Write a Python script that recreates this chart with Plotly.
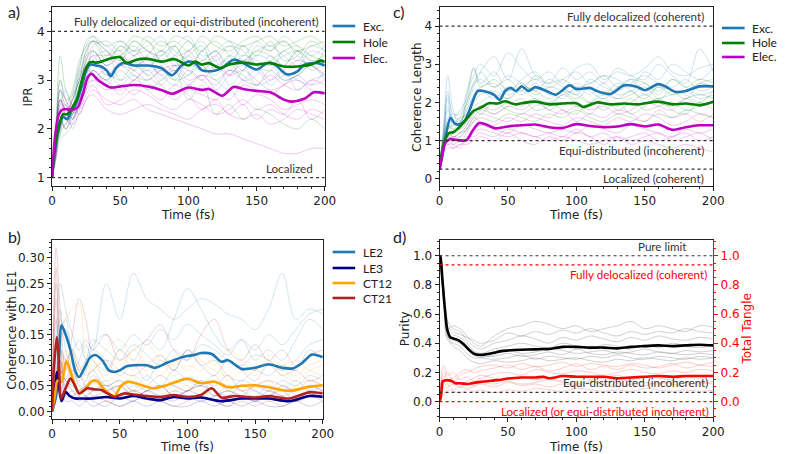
import plotly.graph_objects as go

# ---------------- time grid for thin (individual) trajectories ----------------
T_THIN = [0, 3, 6, 10, 15, 20, 25, 30, 40, 50, 60, 70, 80, 90, 100, 110, 120, 130, 140, 150, 160, 170, 180, 190, 200]

# ---------------- panel a) IPR ----------------
ipr_exc_t = [0, 2, 5, 8, 11, 14, 18, 22, 25, 28, 32, 36, 40, 43, 47, 52, 60, 70, 80, 88, 95, 100, 105, 110, 120, 125, 133, 140, 150, 158, 163, 172, 180, 185, 195, 200]
ipr_exc = [1.0, 1.55, 2.0, 2.25, 2.2, 2.35, 2.55, 2.9, 3.2, 3.32, 3.3, 3.28, 3.2, 3.08, 3.25, 3.35, 3.3, 3.3, 3.25, 3.1, 3.3, 3.38, 3.35, 3.2, 3.2, 3.25, 3.42, 3.35, 3.22, 3.35, 3.33, 3.12, 3.18, 3.32, 3.35, 3.3]
ipr_hole_t = [0, 2, 5, 8, 11, 14, 18, 22, 25, 28, 32, 36, 40, 45, 50, 55, 62, 70, 80, 90, 100, 105, 110, 115, 123, 130, 140, 150, 160, 170, 180, 190, 197, 200]
ipr_hole = [1.0, 1.6, 2.05, 2.3, 2.3, 2.4, 2.6, 3.0, 3.25, 3.37, 3.36, 3.38, 3.42, 3.46, 3.47, 3.35, 3.42, 3.44, 3.38, 3.43, 3.3, 3.38, 3.32, 3.35, 3.25, 3.32, 3.36, 3.32, 3.35, 3.28, 3.28, 3.32, 3.4, 3.37]
ipr_elec_t = [0, 2, 5, 8, 12, 16, 19, 23, 26, 29, 33, 38, 43, 50, 60, 70, 80, 88, 95, 100, 110, 115, 125, 133, 140, 150, 160, 170, 175, 185, 192, 200]
ipr_elec = [1.0, 1.8, 2.3, 2.4, 2.4, 2.4, 2.45, 2.75, 3.05, 3.13, 3.02, 2.92, 2.85, 2.87, 2.9, 2.87, 2.8, 2.72, 2.8, 2.85, 2.8, 2.82, 2.68, 2.86, 2.82, 2.78, 2.75, 2.6, 2.56, 2.62, 2.75, 2.73]

ipr_exc_thin = [
    [1, 1.8, 2.6, 2.4, 2.6, 3.0, 3.6, 3.8, 3.7, 3.5, 3.8, 3.6, 3.4, 3.7, 3.9, 3.5, 3.6, 3.8, 3.4, 3.6, 3.7, 3.5, 3.3, 3.6, 3.5],
    [1, 1.5, 2.2, 2.0, 2.3, 2.6, 3.2, 3.1, 2.9, 3.2, 3.0, 3.3, 3.1, 2.9, 3.2, 3.0, 2.8, 3.1, 3.3, 2.9, 3.0, 3.2, 2.8, 3.0, 3.1],
    [1, 2.0, 3.0, 2.6, 2.2, 2.8, 3.4, 3.6, 3.3, 3.7, 3.5, 3.2, 3.6, 3.4, 3.1, 3.6, 3.3, 3.5, 3.7, 3.3, 3.2, 3.6, 3.4, 3.7, 3.6],
    [1, 1.6, 2.4, 2.2, 2.4, 3.2, 3.0, 3.4, 3.6, 3.0, 3.2, 3.5, 3.0, 3.3, 3.5, 3.2, 3.4, 2.9, 3.2, 3.5, 3.4, 3.0, 3.1, 3.3, 3.0],
    [1, 1.7, 1.9, 2.5, 2.0, 2.4, 2.9, 3.2, 3.0, 3.3, 3.4, 3.1, 3.3, 3.0, 3.4, 3.3, 3.1, 3.4, 3.0, 3.1, 3.5, 3.3, 3.6, 3.2, 3.4],
    [1, 1.9, 2.8, 2.3, 2.7, 3.3, 3.7, 3.9, 3.5, 3.8, 3.6, 3.7, 3.9, 3.5, 3.6, 3.8, 3.4, 3.7, 3.5, 3.8, 3.6, 3.9, 3.7, 3.5, 3.7],
    [1, 1.4, 1.8, 1.9, 2.1, 2.5, 2.8, 3.0, 3.2, 2.9, 3.1, 2.8, 3.0, 3.2, 2.9, 3.1, 3.0, 2.8, 3.0, 3.2, 2.9, 3.1, 3.0, 2.9, 3.2],
    [1, 1.7, 2.5, 2.8, 2.5, 2.9, 3.3, 3.5, 3.1, 3.4, 3.6, 3.3, 3.5, 3.7, 3.3, 3.4, 3.6, 3.2, 3.5, 3.4, 3.3, 3.5, 3.6, 3.4, 3.3],
]
ipr_hole_thin = [
    [1, 2.2, 3.5, 2.8, 2.5, 3.2, 3.8, 3.9, 3.7, 3.8, 3.6, 3.9, 3.7, 3.8, 3.6, 3.9, 3.7, 3.6, 3.8, 3.9, 3.7, 3.8, 3.6, 3.7, 3.8],
    [1, 1.8, 2.4, 2.2, 2.6, 3.0, 3.5, 3.6, 3.3, 3.5, 3.7, 3.4, 3.6, 3.3, 3.5, 3.7, 3.2, 3.5, 3.4, 3.6, 3.5, 3.3, 3.6, 3.4, 3.5],
    [1, 1.6, 2.0, 2.3, 2.2, 2.5, 3.1, 3.4, 3.2, 3.0, 3.3, 3.1, 2.9, 3.2, 2.6, 2.9, 2.3, 2.5, 2.2, 2.4, 2.3, 2.1, 2.0, 2.2, 2.0],
    [1, 2.0, 2.8, 2.5, 2.8, 3.4, 3.7, 3.8, 3.6, 3.4, 3.8, 3.6, 3.5, 3.7, 3.3, 3.6, 3.8, 3.5, 3.2, 3.7, 3.6, 3.8, 3.5, 3.3, 3.6],
    [1, 1.9, 2.6, 2.4, 2.3, 2.9, 3.3, 3.5, 3.5, 3.6, 3.2, 3.5, 3.8, 3.6, 3.4, 3.2, 3.5, 3.7, 3.6, 3.3, 3.4, 3.6, 3.7, 3.5, 3.4],
    [1, 1.7, 2.2, 2.0, 2.4, 2.8, 3.4, 3.7, 3.8, 3.6, 3.9, 3.8, 3.6, 3.9, 3.8, 3.6, 3.9, 3.8, 3.7, 3.8, 3.9, 3.7, 3.8, 3.9, 3.7],
    [1, 2.1, 3.0, 2.6, 2.7, 3.1, 3.6, 3.8, 3.4, 3.7, 3.5, 3.8, 3.4, 3.5, 3.8, 3.4, 3.6, 3.3, 3.7, 3.5, 3.8, 3.4, 3.5, 3.8, 3.6],
    [1, 1.5, 1.9, 2.1, 2.3, 2.7, 3.0, 3.2, 3.0, 3.3, 3.1, 3.0, 3.2, 3.0, 3.1, 3.3, 3.0, 3.2, 3.1, 2.9, 3.2, 3.0, 3.1, 3.3, 3.1],
]
ipr_elec_thin = [
    [1, 1.5, 2.3, 2.2, 2.1, 2.3, 2.6, 2.8, 2.6, 2.5, 2.6, 2.4, 2.3, 2.2, 2.1, 2.0, 1.9, 1.9, 1.8, 1.7, 1.6, 1.5, 1.5, 1.6, 1.6],
    [1, 1.7, 2.5, 2.4, 2.5, 2.7, 3.2, 3.4, 3.1, 3.3, 3.2, 3.0, 3.2, 3.3, 3.0, 3.1, 2.9, 3.2, 3.0, 2.9, 3.1, 2.9, 2.8, 3.0, 2.9],
    [1, 1.9, 2.8, 2.6, 2.4, 2.8, 3.5, 3.8, 3.6, 3.3, 3.5, 3.6, 3.4, 3.2, 3.6, 3.3, 3.5, 3.1, 3.4, 3.3, 3.0, 3.2, 3.4, 3.3, 3.1],
    [1, 1.4, 2.0, 2.1, 2.3, 2.4, 2.7, 2.9, 2.5, 2.6, 2.8, 2.7, 2.5, 2.4, 2.6, 2.5, 2.3, 2.4, 2.6, 2.4, 2.5, 2.3, 2.2, 2.4, 2.3],
    [1, 1.6, 2.4, 2.5, 2.2, 2.6, 2.9, 3.0, 2.8, 2.9, 2.7, 2.9, 2.8, 2.6, 2.8, 2.7, 2.6, 2.8, 2.5, 2.7, 2.6, 2.4, 2.5, 2.6, 2.5],
    [1, 1.8, 2.6, 2.3, 2.6, 3.0, 3.3, 3.1, 3.0, 2.7, 3.0, 2.8, 2.6, 2.9, 2.7, 2.4, 2.6, 2.3, 2.5, 2.2, 2.4, 2.3, 2.6, 2.2, 2.4],
    [1, 1.6, 2.2, 2.0, 2.2, 2.5, 2.8, 3.2, 2.9, 2.8, 3.0, 3.2, 2.9, 2.7, 2.9, 3.1, 2.8, 2.6, 2.9, 2.8, 2.7, 2.9, 3.0, 2.8, 2.7],
    [1, 1.5, 2.1, 2.3, 2.4, 2.6, 3.0, 3.6, 3.3, 3.5, 3.3, 3.4, 3.1, 3.3, 3.2, 3.0, 3.3, 3.1, 3.2, 3.0, 2.8, 2.9, 3.1, 2.9, 3.0],
    [1, 1.7, 2.6, 2.4, 2.5, 2.3, 2.6, 2.7, 2.4, 2.3, 2.4, 2.5, 2.4, 2.3, 2.2, 2.4, 2.5, 2.3, 2.2, 2.3, 2.1, 2.2, 2.4, 2.3, 2.2],
]

# ---------------- panel c) Coherence length ----------------
cl_exc_t = [0, 3, 5, 8, 11, 14, 18, 22, 25, 28, 32, 36, 40, 44, 48, 52, 56, 60, 65, 70, 78, 85, 95, 100, 110, 115, 125, 135, 145, 150, 160, 165, 172, 180, 190, 200]
cl_exc = [0.25, 0.8, 1.2, 1.6, 1.45, 1.42, 1.5, 1.8, 2.1, 2.3, 2.3, 2.26, 2.2, 2.07, 2.3, 2.38, 2.3, 2.42, 2.3, 2.4, 2.3, 2.2, 2.45, 2.35, 2.38, 2.3, 2.22, 2.45, 2.4, 2.32, 2.48, 2.42, 2.28, 2.3, 2.42, 2.42]
cl_hole_t = [0, 3, 7, 10, 13, 17, 21, 25, 30, 36, 42, 48, 55, 60, 70, 80, 90, 100, 105, 115, 125, 135, 145, 160, 170, 180, 190, 200]
cl_hole = [0.25, 0.9, 1.2, 1.22, 1.3, 1.45, 1.62, 1.78, 1.86, 1.98, 1.97, 2.03, 1.95, 1.98, 2.02, 1.95, 1.97, 1.98, 1.88, 2.0, 1.95, 1.97, 1.95, 2.02, 1.95, 1.97, 1.93, 2.02]
cl_elec_t = [0, 2, 4, 8, 12, 16, 20, 24, 29, 34, 41, 50, 60, 70, 80, 90, 100, 110, 120, 130, 140, 150, 160, 170, 180, 190, 200]
cl_elec = [0.25, 0.6, 0.93, 1.04, 1.02, 1.0, 1.02, 1.25, 1.46, 1.42, 1.32, 1.37, 1.4, 1.42, 1.35, 1.33, 1.43, 1.38, 1.35, 1.37, 1.43, 1.37, 1.42, 1.28, 1.35, 1.4, 1.4]

cl_exc_thin = [
    [0.25, 1.4, 2.7, 1.8, 1.5, 1.9, 2.4, 2.8, 3.2, 2.6, 3.4, 2.7, 2.5, 2.9, 2.6, 2.8, 2.5, 2.9, 2.7, 2.6, 3.0, 2.7, 2.5, 3.4, 2.8],
    [0.25, 1.1, 1.9, 1.5, 1.6, 1.7, 2.1, 2.3, 2.1, 2.4, 2.2, 2.5, 2.2, 2.3, 2.5, 2.3, 2.1, 2.4, 2.6, 2.2, 2.4, 2.3, 2.1, 2.5, 2.6],
    [0.25, 1.2, 2.1, 1.3, 1.4, 2.0, 2.5, 2.6, 2.4, 2.7, 2.5, 2.3, 2.6, 2.4, 2.2, 2.6, 2.4, 2.3, 2.5, 2.7, 2.5, 2.4, 2.6, 2.3, 2.4],
    [0.25, 0.9, 1.6, 1.7, 1.3, 1.5, 1.9, 2.0, 2.2, 2.1, 2.3, 2.1, 2.0, 2.2, 2.3, 2.0, 2.2, 2.1, 2.3, 2.0, 2.1, 2.2, 2.3, 2.1, 2.2],
    [0.25, 1.3, 2.2, 1.6, 1.8, 2.1, 2.9, 2.5, 2.8, 2.3, 2.6, 2.8, 2.4, 2.6, 2.8, 2.5, 2.7, 2.6, 2.4, 2.8, 2.6, 3.0, 2.8, 2.6, 2.9],
    [0.25, 1.2, 2.3, 1.7, 1.7, 2.3, 2.7, 3.0, 2.7, 3.3, 2.9, 2.6, 2.8, 2.5, 2.9, 3.0, 2.6, 2.8, 2.7, 2.9, 3.2, 2.8, 2.7, 2.9, 3.0],
    [0.25, 1.0, 1.8, 1.4, 1.5, 1.8, 2.2, 2.4, 2.5, 2.2, 2.4, 2.6, 2.3, 2.1, 2.4, 2.2, 2.5, 2.2, 2.3, 2.5, 2.2, 2.6, 2.4, 2.2, 2.3],
]
cl_hole_thin = [
    [0.25, 1.0, 1.5, 1.2, 1.4, 2.2, 2.9, 2.4, 2.6, 2.3, 2.5, 2.2, 2.4, 2.3, 2.1, 2.4, 2.2, 2.5, 2.3, 2.1, 2.4, 2.2, 2.3, 2.5, 2.4],
    [0.25, 0.9, 1.2, 1.1, 1.2, 1.4, 1.7, 1.9, 1.8, 2.0, 1.9, 2.1, 1.8, 2.0, 1.9, 1.7, 2.0, 1.9, 2.1, 1.8, 1.9, 2.0, 1.8, 1.9, 2.0],
    [0.25, 0.8, 1.1, 1.0, 1.1, 1.3, 1.5, 1.6, 1.5, 1.7, 1.6, 1.5, 1.7, 1.6, 1.8, 1.6, 1.5, 1.7, 1.6, 1.5, 1.7, 1.6, 1.8, 1.7, 1.6],
    [0.25, 1.1, 1.4, 1.3, 1.5, 1.7, 2.0, 2.2, 2.3, 2.1, 2.4, 2.3, 2.1, 2.3, 2.2, 2.0, 2.3, 2.1, 2.2, 2.4, 2.1, 2.3, 2.2, 2.0, 2.3],
    [0.25, 0.9, 1.0, 1.2, 1.3, 1.5, 1.8, 1.7, 2.0, 1.8, 1.7, 1.9, 2.0, 1.8, 1.7, 2.0, 1.8, 2.0, 1.7, 1.9, 2.1, 1.8, 1.7, 2.0, 1.8],
    [0.25, 1.0, 1.3, 1.4, 1.6, 2.0, 2.5, 2.8, 2.4, 2.6, 2.3, 2.7, 2.5, 2.6, 2.4, 2.5, 2.7, 2.4, 2.6, 2.5, 2.3, 2.6, 2.4, 2.6, 2.5],
    [0.25, 0.8, 1.1, 1.2, 1.2, 1.3, 1.6, 1.8, 1.7, 1.9, 2.1, 1.8, 1.9, 2.2, 2.0, 1.9, 2.1, 1.8, 2.0, 2.2, 2.0, 1.9, 2.1, 2.2, 2.1],
]
cl_elec_thin = [
    [0.25, 0.8, 1.0, 0.9, 1.0, 1.0, 1.2, 1.3, 1.2, 1.1, 1.2, 1.1, 1.0, 1.1, 1.0, 0.9, 1.0, 1.1, 0.9, 1.0, 0.9, 0.8, 0.9, 0.8, 0.7],
    [0.25, 0.9, 1.1, 1.0, 1.0, 1.2, 1.5, 1.7, 1.6, 1.5, 1.7, 1.6, 1.5, 1.4, 1.6, 1.5, 1.4, 1.6, 1.5, 1.7, 1.6, 1.4, 1.5, 1.7, 1.6],
    [0.25, 0.7, 0.9, 0.8, 0.9, 1.0, 1.3, 1.4, 1.3, 1.2, 1.4, 1.3, 1.2, 1.3, 1.2, 1.4, 1.3, 1.2, 1.4, 1.3, 1.2, 1.1, 1.3, 1.2, 1.3],
    [0.25, 1.0, 1.2, 1.1, 1.2, 1.4, 1.8, 1.9, 1.7, 1.9, 1.8, 2.0, 1.8, 1.7, 1.9, 1.8, 1.9, 1.7, 1.8, 2.0, 1.9, 1.8, 2.1, 1.9, 2.0],
    [0.25, 0.8, 0.9, 0.9, 0.8, 1.1, 1.1, 1.2, 1.1, 1.3, 1.2, 1.1, 1.2, 1.1, 1.3, 1.1, 1.2, 1.0, 1.1, 1.2, 1.0, 1.1, 1.2, 1.0, 1.1],
    [0.25, 0.9, 1.0, 1.1, 1.1, 1.3, 1.6, 1.5, 1.4, 1.6, 1.5, 1.7, 1.6, 1.8, 1.5, 1.7, 1.6, 1.8, 1.7, 1.5, 1.8, 1.6, 1.7, 1.5, 1.7],
    [0.25, 0.7, 0.8, 0.8, 0.9, 0.9, 1.0, 1.1, 1.0, 1.2, 1.0, 0.9, 1.1, 1.0, 1.2, 1.1, 0.9, 1.1, 1.0, 1.1, 1.2, 1.0, 1.1, 1.2, 1.0],
]

# ---------------- panel b) Coherence with LE1 ----------------
le2_t = [0, 3, 5, 7, 10, 14, 17, 20, 24, 28, 32, 37, 42, 46, 50, 55, 60, 70, 76, 85, 90, 95, 100, 105, 110, 118, 125, 130, 140, 150, 160, 170, 178, 185, 192, 200]
le2 = [0.0, 0.03, 0.1, 0.168, 0.15, 0.115, 0.08, 0.067, 0.085, 0.105, 0.11, 0.1, 0.08, 0.077, 0.08, 0.088, 0.09, 0.09, 0.085, 0.095, 0.1, 0.105, 0.108, 0.11, 0.114, 0.112, 0.097, 0.1, 0.083, 0.085, 0.092, 0.085, 0.084, 0.095, 0.111, 0.106]
le3_t = [0, 2, 3.5, 5, 7, 10, 13, 17, 20, 30, 40, 50, 60, 70, 80, 90, 100, 110, 125, 140, 150, 160, 175, 190, 200]
le3 = [0.0, 0.04, 0.077, 0.05, 0.02, 0.038, 0.03, 0.025, 0.025, 0.025, 0.028, 0.025, 0.03, 0.025, 0.022, 0.028, 0.025, 0.027, 0.02, 0.025, 0.025, 0.025, 0.02, 0.03, 0.028]
ct12_t = [0, 2, 4, 7, 10.5, 14, 17, 20, 25, 29, 33, 38, 42, 46, 51, 56, 65, 75, 83, 90, 100, 110, 120, 130, 140, 150, 160, 175, 190, 200]
ct12 = [0.0, 0.03, 0.06, 0.058, 0.098, 0.075, 0.05, 0.035, 0.045, 0.058, 0.06, 0.045, 0.035, 0.03, 0.05, 0.058, 0.052, 0.045, 0.05, 0.056, 0.064, 0.055, 0.058, 0.047, 0.05, 0.051, 0.047, 0.04, 0.048, 0.051]
ct21_t = [0, 1.5, 3.5, 5, 6.8, 10, 13.6, 17, 20, 26, 31, 36, 41, 46, 53, 60, 70, 80, 90, 100, 110, 118, 125, 135, 150, 160, 175, 190, 200]
ct21 = [0.0, 0.09, 0.145, 0.1, 0.025, 0.045, 0.064, 0.05, 0.035, 0.045, 0.043, 0.042, 0.035, 0.028, 0.035, 0.033, 0.03, 0.028, 0.032, 0.028, 0.032, 0.045, 0.027, 0.03, 0.027, 0.03, 0.025, 0.037, 0.035]

le2_thin = [
    [0, 0.15, 0.25, 0.2, 0.15, 0.12, 0.14, 0.12, 0.25, 0.18, 0.27, 0.22, 0.2, 0.18, 0.2, 0.22, 0.21, 0.19, 0.18, 0.16, 0.2, 0.27, 0.18, 0.2, 0.19],
    [0, 0.1, 0.2, 0.12, 0.08, 0.1, 0.13, 0.1, 0.08, 0.12, 0.1, 0.14, 0.12, 0.18, 0.24, 0.2, 0.15, 0.12, 0.14, 0.1, 0.12, 0.1, 0.14, 0.18, 0.16],
    [0, 0.08, 0.15, 0.18, 0.1, 0.06, 0.08, 0.12, 0.1, 0.07, 0.09, 0.06, 0.1, 0.08, 0.12, 0.09, 0.1, 0.07, 0.06, 0.08, 0.07, 0.09, 0.08, 0.12, 0.1],
    [0, 0.05, 0.12, 0.1, 0.06, 0.04, 0.06, 0.08, 0.05, 0.06, 0.04, 0.07, 0.05, 0.08, 0.06, 0.05, 0.07, 0.04, 0.06, 0.05, 0.04, 0.06, 0.05, 0.07, 0.06],
    [0, 0.12, 0.18, 0.15, 0.12, 0.08, 0.1, 0.14, 0.12, 0.1, 0.13, 0.11, 0.09, 0.12, 0.1, 0.13, 0.12, 0.1, 0.09, 0.11, 0.1, 0.08, 0.1, 0.13, 0.14],
    [0, 0.06, 0.14, 0.16, 0.12, 0.14, 0.1, 0.13, 0.15, 0.12, 0.15, 0.13, 0.16, 0.14, 0.17, 0.15, 0.13, 0.11, 0.14, 0.12, 0.15, 0.13, 0.16, 0.19, 0.2],
    [0, 0.04, 0.08, 0.06, 0.04, 0.03, 0.05, 0.04, 0.06, 0.03, 0.05, 0.04, 0.03, 0.05, 0.04, 0.06, 0.03, 0.05, 0.04, 0.03, 0.05, 0.04, 0.06, 0.04, 0.05],
]
le3_thin = [
    [0, 0.06, 0.1, 0.04, 0.03, 0.04, 0.03, 0.04, 0.05, 0.03, 0.04, 0.03, 0.02, 0.04, 0.03, 0.02, 0.03, 0.04, 0.03, 0.02, 0.03, 0.04, 0.02, 0.03, 0.04],
    [0, 0.03, 0.05, 0.02, 0.02, 0.01, 0.02, 0.01, 0.02, 0.01, 0.02, 0.01, 0.02, 0.01, 0.01, 0.02, 0.01, 0.02, 0.01, 0.02, 0.01, 0.01, 0.02, 0.01, 0.02],
    [0, 0.04, 0.07, 0.03, 0.04, 0.02, 0.03, 0.02, 0.01, 0.03, 0.02, 0.04, 0.03, 0.02, 0.04, 0.03, 0.02, 0.01, 0.03, 0.02, 0.04, 0.03, 0.02, 0.04, 0.03],
    [0, 0.05, 0.08, 0.06, 0.05, 0.04, 0.05, 0.03, 0.04, 0.05, 0.03, 0.04, 0.05, 0.03, 0.04, 0.05, 0.04, 0.03, 0.05, 0.04, 0.03, 0.05, 0.04, 0.05, 0.04],
]
ct12_thin = [
    [0, 0.08, 0.12, 0.18, 0.2, 0.21, 0.1, 0.08, 0.12, 0.14, 0.1, 0.08, 0.11, 0.09, 0.12, 0.1, 0.08, 0.07, 0.09, 0.08, 0.1, 0.07, 0.06, 0.08, 0.09],
    [0, 0.05, 0.08, 0.1, 0.06, 0.04, 0.05, 0.06, 0.04, 0.05, 0.07, 0.05, 0.04, 0.06, 0.05, 0.04, 0.06, 0.05, 0.04, 0.05, 0.06, 0.04, 0.05, 0.06, 0.05],
    [0, 0.04, 0.06, 0.12, 0.08, 0.05, 0.03, 0.04, 0.02, 0.03, 0.04, 0.02, 0.03, 0.04, 0.05, 0.03, 0.04, 0.02, 0.03, 0.04, 0.02, 0.03, 0.02, 0.03, 0.04],
    [0, 0.06, 0.1, 0.08, 0.12, 0.07, 0.06, 0.09, 0.07, 0.12, 0.08, 0.13, 0.1, 0.07, 0.09, 0.08, 0.1, 0.06, 0.08, 0.07, 0.09, 0.08, 0.07, 0.09, 0.1],
    [0, 0.03, 0.05, 0.06, 0.04, 0.09, 0.08, 0.1, 0.06, 0.08, 0.12, 0.09, 0.07, 0.1, 0.08, 0.11, 0.09, 0.12, 0.1, 0.08, 0.11, 0.09, 0.1, 0.08, 0.07],
]
ct21_thin = [
    [0, 0.32, 0.2, 0.08, 0.15, 0.22, 0.18, 0.12, 0.15, 0.1, 0.12, 0.14, 0.17, 0.12, 0.1, 0.15, 0.18, 0.12, 0.1, 0.13, 0.1, 0.12, 0.09, 0.11, 0.12],
    [0, 0.25, 0.15, 0.05, 0.08, 0.05, 0.04, 0.06, 0.04, 0.05, 0.03, 0.04, 0.05, 0.03, 0.04, 0.05, 0.03, 0.04, 0.03, 0.05, 0.04, 0.03, 0.04, 0.05, 0.04],
    [0, 0.18, 0.1, 0.04, 0.06, 0.03, 0.02, 0.03, 0.02, 0.01, 0.02, 0.03, 0.02, 0.01, 0.02, 0.03, 0.02, 0.01, 0.02, 0.01, 0.02, 0.01, 0.02, 0.03, 0.02],
    [0, 0.28, 0.12, 0.06, 0.1, 0.08, 0.05, 0.07, 0.05, 0.06, 0.04, 0.05, 0.07, 0.05, 0.04, 0.06, 0.05, 0.07, 0.04, 0.05, 0.06, 0.05, 0.04, 0.06, 0.05],
    [0, 0.22, 0.12, 0.1, 0.12, 0.09, 0.07, 0.08, 0.1, 0.08, 0.07, 0.09, 0.11, 0.08, 0.12, 0.09, 0.07, 0.1, 0.08, 0.06, 0.09, 0.07, 0.08, 0.06, 0.07],
]

# ---------------- panel d) Purity / Total tangle ----------------
pur_t = [0, 0.7, 2, 3.1, 4.3, 5.5, 7, 8, 11, 14, 18, 21, 24, 26, 30, 33, 40, 45, 50, 60, 70, 76, 80, 90, 100, 110, 120, 130, 140, 150, 160, 170, 180, 190, 200]
purity = [1.0, 0.99, 0.85, 0.72, 0.6, 0.5, 0.455, 0.44, 0.43, 0.42, 0.39, 0.36, 0.335, 0.325, 0.32, 0.322, 0.335, 0.346, 0.35, 0.355, 0.358, 0.36, 0.36, 0.375, 0.375, 0.37, 0.37, 0.365, 0.375, 0.38, 0.385, 0.38, 0.385, 0.39, 0.385]
tan_t = [0, 0.7, 1.5, 2.4, 4, 6.7, 9, 11.5, 15, 21, 25, 30, 40, 45, 50, 60, 70, 76, 80, 90, 100, 110, 120, 130, 140, 150, 160, 170, 180, 190, 200]
tangle = [0.0, 0.02, 0.08, 0.14, 0.145, 0.145, 0.14, 0.126, 0.125, 0.12, 0.128, 0.135, 0.145, 0.15, 0.158, 0.165, 0.165, 0.17, 0.16, 0.175, 0.17, 0.17, 0.17, 0.16, 0.165, 0.17, 0.175, 0.17, 0.175, 0.175, 0.175]

pur_thin = [
    [1, 0.75, 0.5, 0.52, 0.5, 0.45, 0.4, 0.38, 0.45, 0.5, 0.52, 0.55, 0.53, 0.5, 0.52, 0.48, 0.5, 0.52, 0.55, 0.5, 0.52, 0.5, 0.48, 0.52, 0.51],
    [1, 0.7, 0.42, 0.4, 0.38, 0.33, 0.3, 0.3, 0.32, 0.35, 0.33, 0.34, 0.36, 0.35, 0.33, 0.34, 0.35, 0.33, 0.34, 0.36, 0.34, 0.33, 0.35, 0.34, 0.35],
    [1, 0.72, 0.45, 0.38, 0.35, 0.3, 0.27, 0.26, 0.28, 0.27, 0.28, 0.3, 0.28, 0.29, 0.3, 0.28, 0.27, 0.29, 0.28, 0.3, 0.29, 0.28, 0.3, 0.29, 0.3],
    [1, 0.8, 0.55, 0.5, 0.48, 0.42, 0.38, 0.36, 0.4, 0.42, 0.45, 0.43, 0.4, 0.44, 0.42, 0.45, 0.43, 0.41, 0.44, 0.42, 0.45, 0.43, 0.42, 0.44, 0.43],
    [1, 0.78, 0.5, 0.46, 0.44, 0.4, 0.35, 0.33, 0.36, 0.38, 0.4, 0.38, 0.37, 0.4, 0.38, 0.36, 0.39, 0.38, 0.36, 0.39, 0.37, 0.4, 0.38, 0.37, 0.39],
    [1, 0.74, 0.47, 0.44, 0.42, 0.38, 0.34, 0.32, 0.31, 0.33, 0.31, 0.32, 0.34, 0.32, 0.36, 0.33, 0.32, 0.34, 0.33, 0.32, 0.34, 0.33, 0.32, 0.33, 0.32],
    [1, 0.76, 0.52, 0.48, 0.46, 0.44, 0.42, 0.4, 0.42, 0.47, 0.45, 0.48, 0.46, 0.49, 0.47, 0.5, 0.47, 0.45, 0.48, 0.46, 0.48, 0.47, 0.5, 0.48, 0.47],
    [1, 0.7, 0.44, 0.42, 0.4, 0.36, 0.32, 0.3, 0.29, 0.3, 0.32, 0.29, 0.31, 0.3, 0.29, 0.31, 0.3, 0.32, 0.3, 0.29, 0.31, 0.3, 0.29, 0.31, 0.3],
]
tan_thin = [
    [0, 0.2, 0.15, 0.12, 0.18, 0.2, 0.22, 0.24, 0.25, 0.23, 0.26, 0.24, 0.25, 0.27, 0.24, 0.26, 0.25, 0.24, 0.26, 0.25, 0.23, 0.25, 0.27, 0.25, 0.24],
    [0, 0.1, 0.12, 0.08, 0.1, 0.09, 0.1, 0.12, 0.1, 0.13, 0.11, 0.12, 0.1, 0.12, 0.11, 0.13, 0.12, 0.1, 0.12, 0.11, 0.13, 0.12, 0.11, 0.13, 0.12],
    [0, 0.25, 0.18, 0.2, 0.15, 0.17, 0.14, 0.16, 0.19, 0.2, 0.18, 0.22, 0.2, 0.19, 0.21, 0.2, 0.18, 0.2, 0.22, 0.2, 0.19, 0.21, 0.2, 0.22, 0.21],
    [0, 0.05, 0.08, 0.07, 0.06, 0.08, 0.07, 0.08, 0.06, 0.08, 0.07, 0.09, 0.08, 0.07, 0.09, 0.08, 0.07, 0.08, 0.07, 0.09, 0.08, 0.07, 0.08, 0.07, 0.08],
    [0, 0.15, 0.2, 0.14, 0.12, 0.14, 0.16, 0.18, 0.16, 0.15, 0.17, 0.15, 0.16, 0.14, 0.17, 0.15, 0.16, 0.18, 0.15, 0.17, 0.16, 0.15, 0.17, 0.16, 0.18],
    [0, 0.12, 0.15, 0.16, 0.2, 0.22, 0.2, 0.21, 0.23, 0.25, 0.22, 0.24, 0.21, 0.23, 0.26, 0.22, 0.24, 0.22, 0.25, 0.23, 0.24, 0.26, 0.23, 0.25, 0.27],
    [0, 0.08, 0.1, 0.12, 0.1, 0.12, 0.11, 0.13, 0.12, 0.14, 0.12, 0.13, 0.15, 0.13, 0.12, 0.14, 0.13, 0.15, 0.14, 0.13, 0.12, 0.14, 0.13, 0.12, 0.14],
]

# ---------------- reference levels ----------------
ipr_levels = [4, 1]
cl_levels = [4, 1, 0.25]
pur_levels = [1.0, 0.0625]
tan_levels = [0.9375, 0.0]

# ---------------- styling ----------------
C_EXC, C_HOLE, C_ELEC = "#1f77b4", "#008000", "#c000c0"
C_LE2, C_LE3, C_CT12, C_CT21 = "#1f77b4", "#00008b", "#ffa500", "#b22222"
TICKFONT = dict(family="DejaVu Sans", size=12, color="#222")
ANNFONT = "Lato"
W, H = 786, 454

fig = go.Figure()


def thin(t, arrs, color, xa, ya, op):
    for v in arrs:
        fig.add_trace(go.Scatter(x=t, y=v, mode="lines", line=dict(color=color, width=1, shape="spline"),
                                 opacity=op, showlegend=False, hoverinfo="skip", xaxis=xa, yaxis=ya))


def thick(t, v, color, name, xa, ya):
    fig.add_trace(go.Scatter(x=t, y=v, mode="lines", name=name,
                             line=dict(color=color, width=2.6, shape="spline", smoothing=0.8),
                             showlegend=False, xaxis=xa, yaxis=ya))


# panel a
thin(T_THIN, ipr_exc_thin, C_EXC, "x", "y", 0.22)
thin(T_THIN, ipr_hole_thin, C_HOLE, "x", "y", 0.22)
thin(T_THIN, ipr_elec_thin, C_ELEC, "x", "y", 0.22)
thick(ipr_exc_t, ipr_exc, C_EXC, "Exc.", "x", "y")
thick(ipr_hole_t, ipr_hole, C_HOLE, "Hole", "x", "y")
thick(ipr_elec_t, ipr_elec, C_ELEC, "Elec.", "x", "y")

# panel c
thin(T_THIN, cl_exc_thin, C_EXC, "x2", "y2", 0.22)
thin(T_THIN, cl_hole_thin, C_HOLE, "x2", "y2", 0.22)
thin(T_THIN, cl_elec_thin, C_ELEC, "x2", "y2", 0.22)
thick(cl_exc_t, cl_exc, C_EXC, "Exc.", "x2", "y2")
thick(cl_hole_t, cl_hole, C_HOLE, "Hole", "x2", "y2")
thick(cl_elec_t, cl_elec, C_ELEC, "Elec.", "x2", "y2")

# panel b
thin(T_THIN, le2_thin, C_LE2, "x3", "y3", 0.2)
thin(T_THIN, le3_thin, C_LE3, "x3", "y3", 0.2)
thin(T_THIN, ct12_thin, C_CT12, "x3", "y3", 0.2)
thin(T_THIN, ct21_thin, C_CT21, "x3", "y3", 0.2)
thick(le2_t, le2, C_LE2, "LE2", "x3", "y3")
thick(le3_t, le3, C_LE3, "LE3", "x3", "y3")
thick(ct12_t, ct12, C_CT12, "CT12", "x3", "y3")
thick(ct21_t, ct21, C_CT21, "CT21", "x3", "y3")

# panel d
thin(T_THIN, pur_thin, "#444444", "x4", "y4", 0.25)
thin(T_THIN, tan_thin, "#ff0000", "x4", "y5", 0.2)
thick(pur_t, purity, "#000000", "Purity", "x4", "y4")
thick(tan_t, tangle, "#ff0000", "Total Tangle", "x4", "y5")


def xax(domain, anchor):
    return dict(domain=domain, anchor=anchor, range=[0, 200], tick0=0, dtick=50, ticks="outside", ticklen=4,
                tickcolor="#222", showline=True, linecolor="#222", linewidth=1, mirror=True, showgrid=False,
                zeroline=False, tickfont=TICKFONT,
                minor=dict(dtick=10, tick0=0, ticks="outside", ticklen=2, tickcolor="#222", showgrid=False))


def yax(domain, anchor, rng, dtick, mdtick, fmt=None, mirror=True):
    d = dict(domain=domain, anchor=anchor, range=rng, tick0=0, dtick=dtick, ticks="outside", ticklen=4,
             tickcolor="#222", showline=True, linecolor="#222", linewidth=1, mirror=mirror, showgrid=False,
             zeroline=False, tickfont=TICKFONT,
             minor=dict(dtick=mdtick, tick0=0, ticks="outside", ticklen=2, tickcolor="#222", showgrid=False))
    if fmt:
        d["tickformat"] = fmt
    return d


YA = [1 - 186 / H, 1 - 7 / H]
YB = [1 - 419 / H, 1 - 240 / H]
YD = [1 - 417 / H, 1 - 240 / H]
XL = [49 / W, 327 / W]
XLB = [49 / W, 325 / W]
XR = [444 / W, 723 / W]

fig.update_layout(
    width=W, height=H, margin=dict(l=0, r=0, t=0, b=0),
    paper_bgcolor="white", plot_bgcolor="white", showlegend=False,
    xaxis=xax(XL, "y"),
    yaxis=yax(YA, "x", [0.83, 4.5], 1, 0.2),
    xaxis2=xax(XR, "y2"),
    yaxis2=yax(YA, "x2", [-0.19, 4.5], 1, 0.2),
    xaxis3=xax(XLB, "y3"),
    yaxis3=yax(YB, "x3", [-0.015, 0.335], 0.05, 0.01, fmt=".2f"),
    xaxis4=xax(XR, "y4"),
    yaxis4=yax(YD, "x4", [-0.106, 1.108], 0.2, 0.05, fmt=".1f", mirror=False),
    yaxis5=dict(domain=YD, anchor="x4", overlaying="y4", side="right", range=[-0.106, 1.108], tick0=0, dtick=0.2,
                tickformat=".1f", ticks="outside", ticklen=4, tickcolor="#ff0000", showline=True,
                linecolor="#ff0000", linewidth=1, showgrid=False, zeroline=False,
                tickfont=dict(family="DejaVu Sans", size=12, color="#ff0000"),
                minor=dict(dtick=0.05, tick0=0, ticks="outside", ticklen=2, tickcolor="#ff0000", showgrid=False)),
)


# axis titles (placed as text at the reference positions)
def axtitle(text, px, py, angle=0, color="#222"):
    fig.add_annotation(text=text, xref="paper", yref="paper", x=px / W, y=1 - py / H, xanchor="center",
                       yanchor="middle", textangle=angle, showarrow=False,
                       font=dict(family="DejaVu Sans", size=12, color=color))


axtitle("Time (fs)", 188, 215)
axtitle("Time (fs)", 583, 215)
axtitle("Time (fs)", 187, 447)
axtitle("Time (fs)", 583, 447)
axtitle("IPR", 24, 97, -90)
axtitle("Coherence Length", 421, 97, -90)
axtitle("Coherence with LE1", 8, 330, -90)
axtitle("Purity", 409, 329, -90)
axtitle("Total Tangle", 757, 329, -90, "#ff0000")

# dotted reference lines
for lv in ipr_levels:
    fig.add_shape(type="line", xref="x", yref="y", x0=0, x1=200, y0=lv, y1=lv, line=dict(color="#333", width=1.2, dash="dot"))
for lv in cl_levels:
    fig.add_shape(type="line", xref="x2", yref="y2", x0=0, x1=200, y0=lv, y1=lv, line=dict(color="#333", width=1.2, dash="dot"))
for lv in pur_levels:
    fig.add_shape(type="line", xref="x4", yref="y4", x0=0, x1=200, y0=lv, y1=lv, line=dict(color="#333", width=1.2, dash="dot"))
for lv in tan_levels:
    fig.add_shape(type="line", xref="x4", yref="y5", x0=0, x1=200, y0=lv, y1=lv, line=dict(color="#ff0000", width=1.2, dash="dot"))


def note(text, xr, yr, x, y, above, color="#333"):
    fig.add_annotation(text=text, xref=xr, yref=yr, x=x, y=y, xanchor="right",
                       yanchor="bottom" if above else "top", yshift=1 if above else -1, showarrow=False,
                       font=dict(family=ANNFONT, size=11.6, color=color))


note("Fully delocalized or equi-distributed (incoherent)", "x", "y", 197, ipr_levels[0], True)
note("Localized", "x", "y", 193, ipr_levels[1], True)
note("Fully delocalized (coherent)", "x2", "y2", 195, cl_levels[0], True)
note("Equi-distributed (incoherent)", "x2", "y2", 195, cl_levels[1], False)
note("Localized (coherent)", "x2", "y2", 195, cl_levels[2], False)
note("Pure limit", "x4", "y4", 182, pur_levels[0], True)
note("Equi-distributed (incoherent)", "x4", "y4", 198, pur_levels[1], True)
note("Fully delocalized (coherent)", "x4", "y5", 197, tan_levels[0], False, "#ff0000")
note("Localized (or equi-distributed incoherent)", "x4", "y5", 198.5, tan_levels[1], False, "#ff0000")


# legends (sample line + label)
def legend(entries, x0, x1, xt, ys):
    for (name, color), yp in zip(entries, ys):
        fig.add_shape(type="line", xref="paper", yref="paper", x0=x0 / W, x1=x1 / W, y0=1 - yp / H, y1=1 - yp / H,
                      line=dict(color=color, width=2.6))
        fig.add_annotation(text=name, xref="paper", yref="paper", x=xt / W, y=1 - yp / H, xanchor="left",
                           yanchor="middle", showarrow=False, font=dict(family=ANNFONT, size=12, color="#222"))


legend([("Exc.", C_EXC), ("Hole", C_HOLE), ("Elec.", C_ELEC)], 335, 358, 364, [26, 42, 58])
legend([("Exc.", C_EXC), ("Hole", C_HOLE), ("Elec.", C_ELEC)], 732, 755, 761, [28, 43, 57])
legend([("LE2", C_LE2), ("LE3", C_LE3), ("CT12", C_CT12), ("CT21", C_CT21)], 335, 358, 364, [252, 268, 283, 298])

for lab, px, py in [("a)", 2, 0), ("b)", 2, 225), ("c)", 395, 0), ("d)", 395, 225)]:
    fig.add_annotation(text=lab, xref="paper", yref="paper", x=px / W, y=1 - py / H, xanchor="left", yanchor="top",
                       showarrow=False, font=dict(family=ANNFONT, size=16, color="#222"))

fig.write_html("out.html")
